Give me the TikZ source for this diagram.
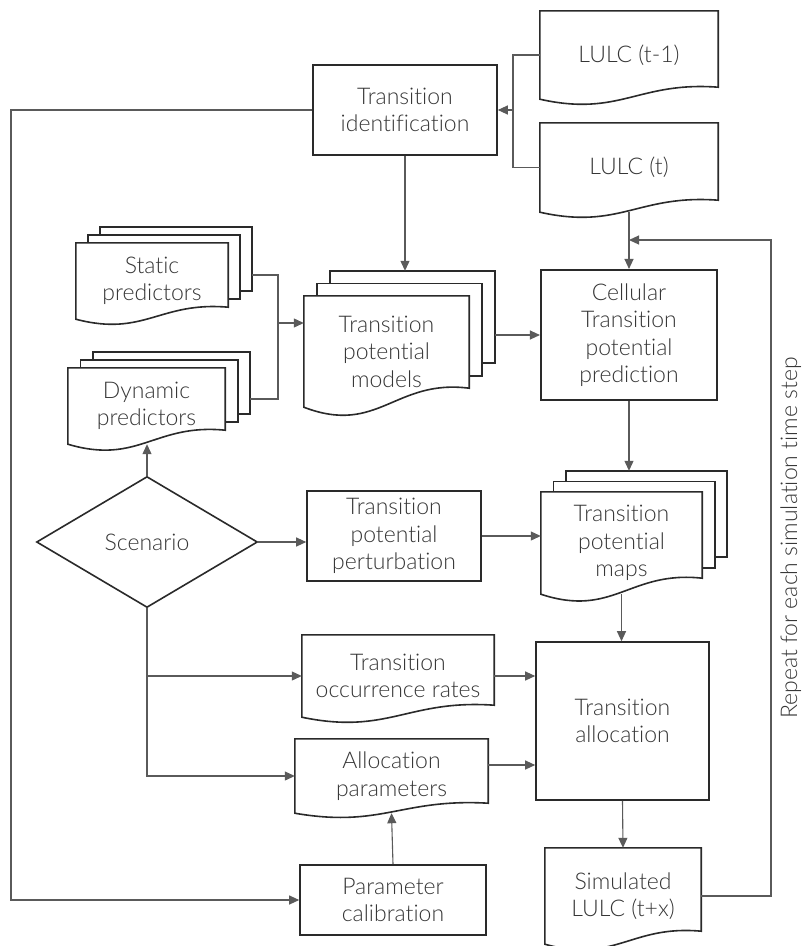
\documentclass[tikz,border=0pt]{standalone}
\usepackage{fontspec}
\setmainfont{Lato}[UprightFont=* Light, Ligatures=NoCommon]
\usetikzlibrary{arrows.meta,shapes.geometric,calc,backgrounds}

\definecolor{boxgray}{HTML}{2A2A2A}
\definecolor{linegray}{HTML}{5A5A5A}
\definecolor{txtgray}{HTML}{363636}

\newcommand{\nodefont}{\fontsize{23}{27.5}\selectfont}

% document outline: wavy bottom, right end raised by #2
\newcommand{\docshape}[2]{%
  \begin{pgfonlayer}{background}
  \draw[docline] (#1.south west) -- (#1.north west) -- (#1.north east) -- ($(#1.south east)+(0,-#2)$)
    .. controls ($(#1.south west)!0.55!(#1.south east)+(0,-1.5*#2)$) and ($(#1.south west)!0.45!(#1.south east)+(0,1.5*#2)$) .. (#1.south west) -- cycle;
  \end{pgfonlayer}}

% two sheets behind a document
\newcommand{\docstack}[4]{%
  \begin{pgfonlayer}{background}
  \foreach \k in {2,1}
    \draw[docline] ($(#1.south west)+(\k*#2,-\k*#3-#4)$) rectangle ($(#1.north east)+(\k*#2,-\k*#3)$);
  \end{pgfonlayer}
  \coordinate (#1-top) at ($(#1.north)+(2*#2,-2*#3)$);
  \coordinate (#1-r) at ($(#1.east)+(2*#2,0)$);
  \docshape{#1}{#4}}

\tikzset{
  proc/.style={draw=boxgray, line width=1.6pt, fill=white, inner sep=0pt, align=center, font=\nodefont, text=txtgray},
  docu/.style={inner sep=0pt, align=center, font=\nodefont, text=txtgray},
  docline/.style={draw=boxgray, line width=1.6pt, fill=white},
  conn/.style={draw=linegray, line width=1.1pt},
  arr/.style={-{Triangle[length=10pt,width=9pt]}},
}

\begin{document}
\begin{tikzpicture}[x=1pt,y=-1pt]
\useasboundingbox (0,0) rectangle (803,946);

% inputs
\node[docu, minimum width=178pt, minimum height=88pt] (lulcprev) at (629,55) {LULC (t-1)};
\docshape{lulcprev}{12}
\node[docu, minimum width=178pt, minimum height=89pt] (lulcnow) at (629,167.5) {LULC (t)};
\docshape{lulcnow}{12}
\node[proc, minimum width=184pt, minimum height=90pt] (transid) at (405,110) {Transition\\identification};

% predictors and models
\node[docu, minimum width=152pt, minimum height=76pt] (statpred) at (152,281) {Static\\predictors};
\docstack{statpred}{12}{8}{12}
\node[docu, minimum width=157pt, minimum height=76pt] (dynpred) at (146.5,406) {Dynamic\\predictors};
\docstack{dynpred}{12.5}{8}{14}
\node[docu, minimum width=165pt, minimum height=111pt] (tpmodels) at (386.5,351.5) {Transition\\potential\\models};
\docstack{tpmodels}{13}{12.5}{19}
\node[proc, line width=2.1pt, minimum width=176pt, minimum height=130pt] (cellpred) at (629,335) {Cellular\\Transition\\potential\\prediction};

% scenario branch
\node[draw=boxgray, line width=1.6pt, fill=white, diamond, inner sep=0pt, minimum width=221pt, minimum height=131pt, font=\nodefont, text=txtgray] (scenario) at (147,542) {Scenario};
\node[proc, minimum width=174pt, minimum height=90pt] (tpperturb) at (394,536) {Transition\\potential\\perturbation};
\node[docu, minimum width=161pt, minimum height=102pt] (tpmaps) at (621.5,543) {Transition\\potential\\maps};
\docstack{tpmaps}{12.5}{10.5}{16}

% allocation
\node[docu, minimum width=192pt, minimum height=82pt] (occrates) at (398,676) {Transition\\occurrence rates};
\docshape{occrates}{12}
\node[docu, minimum width=193pt, minimum height=74pt] (allocpar) at (391.5,776) {Allocation\\parameters};
\docshape{allocpar}{10}
\node[proc, minimum width=173pt, minimum height=158pt] (transalloc) at (622.5,721) {Transition\\allocation};
\node[proc, minimum width=186pt, minimum height=70pt] (paramcal) at (393,900) {Parameter\\calibration};
\node[docu, minimum width=156pt, minimum height=96pt] (simlulc) at (623,896) {Simulated\\LULC (t+x)};
\docshape{simlulc}{13}

\node[font=\nodefont, text=txtgray, rotate=90, anchor=base] (repeat) at (797,538) {Repeat for each simulation time step};

% connectors
\coordinate (lulcjoin) at (513,110);
\draw[conn] (lulcprev.west) -| (lulcjoin) |- (lulcnow.west);
\draw[conn,arr] (lulcjoin) -- (transid.east);
\coordinate (lftbend) at (11,110);
\draw[conn,arr] (transid.west) -- (lftbend) |- (paramcal.west);
\draw[conn,arr] (transid.south) -- (transid.south |- tpmodels-top);
\coordinate (predjoin) at (278,323);
\draw[conn] ($(statpred-r)+(0,-6)$) -| (predjoin) |- ($(dynpred-r)+(0,-7)$);
\draw[conn,arr] (predjoin) -- (predjoin -| tpmodels.west);
\draw[conn,arr] (cellpred.west -| tpmodels-r) -- (cellpred.west);
\draw[conn,arr] (lulcnow.south) -- (cellpred.north);
\coordinate (loopbend) at (771,240);
\coordinate (loopin) at (lulcnow.south |- loopbend);
\draw[conn,arr] (simlulc.east) -| (loopbend) -- (loopin);
\draw[conn,arr] (cellpred.south) -- (cellpred.south |- tpmaps-top);
\draw[conn,arr] (tpperturb.east) -- (tpperturb.east -| tpmaps.west);
\draw[conn,arr] (scenario.east) -- (scenario.east -| tpperturb.west);
\draw[conn,arr] (scenario.north) -- (scenario.north |- dynpred.south);
\draw[conn,arr] (scenario.south) |- (occrates.west);
\draw[conn,arr] (scenario.south) |- (allocpar.west);
\draw[conn,arr] (tpmaps.south) -- (tpmaps.south |- transalloc.north);
\draw[conn,arr] (occrates.east) -- (occrates.east -| transalloc.west);
\draw[conn,arr] ([yshift=11pt]allocpar.east) -- ([yshift=11pt]allocpar.east -| transalloc.west);
\draw[conn,arr] (transalloc.south) -- (simlulc.north);
\draw[conn,arr] (paramcal.north) -- (allocpar.south);
\end{tikzpicture}
\end{document}
